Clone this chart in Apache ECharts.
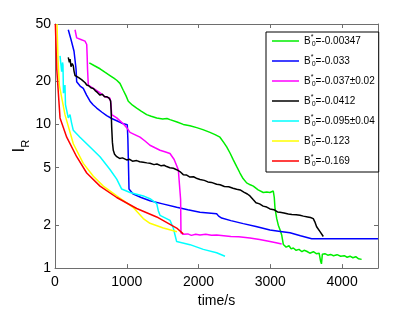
<!DOCTYPE html>
<html>
<head>
<meta charset="utf-8">
<script src="https://cdn.jsdelivr.net/npm/echarts@6/dist/echarts.min.js"></script>
<style>html,body{margin:0;padding:0;background:#fff}#c{width:417px;height:313px}</style>
</head>
<body>
<div id="c"></div>
<script>
// ---- data (time in s, I_R) ----
const seriesNames = ['B0*=-0.00347','B0*=-0.033','B0*=-0.037±0.02','B0*=-0.0412','B0*=-0.095±0.04','B0*=-0.123','B0*=-0.169'];
const seriesColors = ['#00ee00','#0000ff','#ff00ff','#000000','#00ffff','#ffff00','#ff0000'];
const xTickValues = [0,1000,2000,3000,4000];
const yTickLabels = [1,2,5,10,20,50];

const green = [[478,26.8],[550,25.6],[627,24.4],[700,23.0],[766,21.9],[820,21.0],[860,20.3],[905,19.3],[951,17.3],[990,15.8],[1021,14.5],[1080,13.6],[1138,13.0],[1200,12.4],[1277,11.7],[1340,11.4],[1417,11.1],[1500,10.9],[1560,11.0],[1602,10.8],[1700,10.4],[1787,10.0],[1880,9.8],[1974,9.5],[2060,9.2],[2159,8.8],[2230,8.5],[2298,8.15],[2350,7.5],[2392,6.97],[2440,6.3],[2484,5.66],[2530,5.1],[2577,4.59],[2620,4.2],[2670,3.92],[2720,3.8],[2763,3.72],[2830,3.5],[2902,3.36],[2950,3.38],[2995,3.36],[3020,3.3],[3041,3.44],[3055,3.1],[3065,2.6],[3090,2.2],[3111,1.99],[3140,1.82],[3158,1.70],[3181,1.46],[3220,1.40],[3260,1.43],[3290,1.36],[3320,1.38],[3360,1.33],[3400,1.35],[3440,1.30],[3470,1.33],[3506,1.31],[3550,1.27],[3600,1.30],[3640,1.26],[3680,1.27],[3700,1.12],[3712,1.07],[3725,1.25],[3760,1.26],[3800,1.23],[3840,1.245],[3880,1.22],[3930,1.24],[3980,1.21],[4030,1.22],[4070,1.19],[4110,1.21],[4150,1.18],[4190,1.2],[4230,1.16],[4272,1.15]];

const blue = [[185,45.6],[223,39],[265,32.3],[293,24.4],[302,19.8],[350,18.5],[394,17.8],[440,16.0],[488,14.5],[530,13.7],[581,13.0],[650,12.2],[720,11.5],[790,11.0],[860,10.6],[930,10.2],[1007,9.94],[1015,8.0],[1021,5.96],[1031,3.55],[1091,3.27],[1200,3.1],[1323,2.94],[1500,2.8],[1695,2.65],[1850,2.55],[2020,2.45],[2252,2.39],[2280,2.3],[2322,2.23],[2450,2.14],[2623,2.04],[2800,1.95],[2995,1.84],[3140,1.8],[3274,1.76],[3420,1.68],[3576,1.60],[4500,1.60]];

const magenta = [[279,45.6],[302,40],[360,39],[418,38],[442,36.0],[448,30],[453,24.4],[464,18.8],[534,17.8],[603,16.9],[697,15.6],[766,15.2],[778,14],[790,11.7],[860,11.1],[951,10.1],[999,9.5],[1045,8.8],[1110,8.5],[1184,8.15],[1250,7.7],[1323,7.16],[1400,6.85],[1463,6.61],[1530,6.45],[1602,6.27],[1660,5.7],[1718,4.84],[1741,4.71],[1750,3.0],[1755,1.757],[1787,1.72],[1850,1.73],[1900,1.69],[1960,1.72],[2020,1.70],[2100,1.72],[2180,1.69],[2252,1.70],[2350,1.68],[2450,1.66],[2560,1.65],[2716,1.62],[2850,1.58],[2995,1.53],[3080,1.50],[3158,1.47]];

const black = [[185,29.3],[200,27],[210,28.5],[223,25.2],[240,26.5],[255,25.6],[265,23.5],[279,21.9],[300,22.3],[330,21.2],[348,21.4],[370,20.5],[394,20.8],[420,19.5],[442,18.8],[470,18.6],[500,18.0],[534,17.8],[560,17.2],[590,16.7],[627,16.0],[660,16.2],[690,15.6],[720,15.6],[750,15.3],[766,15.2],[775,14.6],[782,12.5],[790,9.5],[800,7.5],[812,6.6],[830,6.2],[860,5.96],[900,5.8],[940,5.85],[999,5.66],[1040,5.72],[1080,5.55],[1138,5.6],[1180,5.5],[1230,5.45],[1280,5.4],[1323,5.36],[1380,5.25],[1420,5.3],[1480,5.15],[1520,5.2],[1556,5.09],[1600,5.0],[1650,4.95],[1695,4.84],[1740,4.7],[1787,4.47],[1830,4.45],[1880,4.3],[1930,4.32],[1980,4.2],[2020,4.14],[2080,4.08],[2130,3.98],[2180,3.95],[2252,3.83],[2300,3.8],[2360,3.7],[2420,3.68],[2480,3.6],[2531,3.54],[2580,3.5],[2630,3.38],[2680,3.28],[2716,3.18],[2760,3.0],[2800,2.85],[2850,2.8],[2900,2.7],[2950,2.66],[2995,2.58],[3050,2.55],[3100,2.46],[3134,2.45],[3190,2.42],[3250,2.38],[3300,2.36],[3360,2.35],[3413,2.33],[3460,2.30],[3520,2.27],[3560,2.25],[3598,2.21],[3620,2.1],[3645,1.94],[3690,1.8],[3738,1.66]];

const cyan = [[70,30],[93,23.3],[105,27],[111,26],[118,16.5],[139,18.8],[146,13.7],[185,11.1],[209,11.7],[230,10.3],[255,9.1],[348,8.15],[488,6.97],[627,5.96],[766,4.86],[860,4.16],[929,3.55],[1045,3.36],[1230,3.18],[1323,3.04],[1417,2.81],[1440,2.5],[1463,2.33],[1602,2.15],[1648,1.90],[1695,1.53],[1881,1.456],[2066,1.35],[2252,1.28],[2368,1.21]];

const yellow = [[28,50],[42,28.5],[60,18.8],[139,11.7],[255,7.34],[394,5.36],[534,4.36],[673,3.72],[860,3.18],[1087,2.65],[1230,2.21],[1323,2.05],[1509,1.90],[1700,1.79]];

const red = [[5,50],[24,24.4],[70,11.1],[163,8.15],[302,5.96],[442,4.59],[627,3.72],[860,3.10],[1138,2.60],[1417,2.27],[1695,1.90],[1787,1.73]];

const allData = [green, blue, magenta, black, cyan, yellow, red];

const FONT = 'Liberation Sans, Arial, sans-serif';
const axisCol = '#6e6e6e';
const chart = echarts.init(document.getElementById('c'), null, {renderer: 'canvas'});

const logMax = Math.log10(50);
const yCustom = yTickLabels.map(v => Math.log10(v));

const option = {
  animation: false,
  backgroundColor: '#fff',
  grid: {left: 55, right: 39, top: 24, bottom: 39},
  legend: {
    orient: 'vertical',
    left: 266, top: 32,
    padding: [2, 4, 4, 6],
    icon: 'rect',
    itemWidth: 27, itemHeight: 1.5, itemGap: 6,
    borderColor: '#000', borderWidth: 1,
    backgroundColor: '#fff',
    data: seriesNames,
    formatter: function (name) {
      return 'B{sup|*}{sub|0}' + name.slice(3);
    },
    textStyle: {
      fontFamily: FONT, fontSize: 10, color: '#000', lineHeight: 14,
      rich: {
        sup: {fontSize: 7, lineHeight: 7, verticalAlign: 'top', width: 1, fontFamily: FONT, color: '#000'},
        sub: {fontSize: 7, lineHeight: 7, verticalAlign: 'bottom', fontFamily: FONT, color: '#000'}
      }
    }
  },
  xAxis: [
    {
      type: 'value', min: 0, max: 4500, position: 'bottom',
      name: 'time/s', nameLocation: 'middle', nameGap: 23,
      nameTextStyle: {fontFamily: FONT, fontSize: 14, color: '#000'},
      axisLine: {show: true, onZero: false, lineStyle: {color: axisCol, width: 1}},
      axisTick: {show: true, inside: true, length: 4, customValues: xTickValues, lineStyle: {color: axisCol}},
      axisLabel: {customValues: xTickValues, fontFamily: FONT, fontSize: 14, color: '#000', margin: 7,
        formatter: function (v) { return String(v); }},
      splitLine: {show: false}
    },
    {
      type: 'value', min: 0, max: 4500, position: 'top',
      axisLine: {show: true, onZero: false, lineStyle: {color: axisCol, width: 1}},
      axisTick: {show: true, inside: true, length: 4, customValues: xTickValues.slice(1), lineStyle: {color: axisCol}},
      axisLabel: {show: false},
      splitLine: {show: false}
    }
  ],
  yAxis: [
    {
      type: 'log', logBase: 10, min: 1, max: 50, position: 'left',
      name: '{i|I}{r|R}', nameLocation: 'middle', nameGap: 24, nameRotate: 90,
      nameTextStyle: {
        fontFamily: FONT, color: '#000',
        rich: {
          i: {fontSize: 17, fontFamily: FONT, color: '#000', lineHeight: 20, verticalAlign: 'top'},
          r: {fontSize: 11, fontFamily: FONT, color: '#000', lineHeight: 12, verticalAlign: 'bottom'}
        }
      },
      axisLine: {show: true, onZero: false, lineStyle: {color: axisCol, width: 1}},
      axisTick: {show: false},
      minorTick: {show: false},
      axisLabel: {show: false},
      splitLine: {show: false}
    },
    {
      type: 'value', min: 0, max: logMax, position: 'left',
      axisLine: {show: false},
      axisTick: {show: true, inside: true, length: 4, customValues: yCustom, lineStyle: {color: axisCol}},
      axisLabel: {
        customValues: yCustom, fontFamily: FONT, fontSize: 14, color: '#000', margin: 4,
        formatter: function (v) { return String(Math.round(Math.pow(10, v))); }
      },
      splitLine: {show: false}
    },
    {
      type: 'value', min: 0, max: logMax, position: 'right',
      axisLine: {show: true, onZero: false, lineStyle: {color: axisCol, width: 1}},
      axisTick: {show: true, inside: true, length: 4, customValues: yCustom, lineStyle: {color: axisCol}},
      axisLabel: {show: false},
      splitLine: {show: false}
    }
  ],
  series: seriesNames.map((n, i) => ({
    name: n, type: 'line', xAxisIndex: 0, yAxisIndex: 0,
    data: allData[i], symbol: 'none', showSymbol: false,
    lineStyle: {color: seriesColors[i], width: 1.5},
    itemStyle: {color: seriesColors[i]},
    clip: true
  }))
};
chart.setOption(option);
</script>
</body>
</html>
